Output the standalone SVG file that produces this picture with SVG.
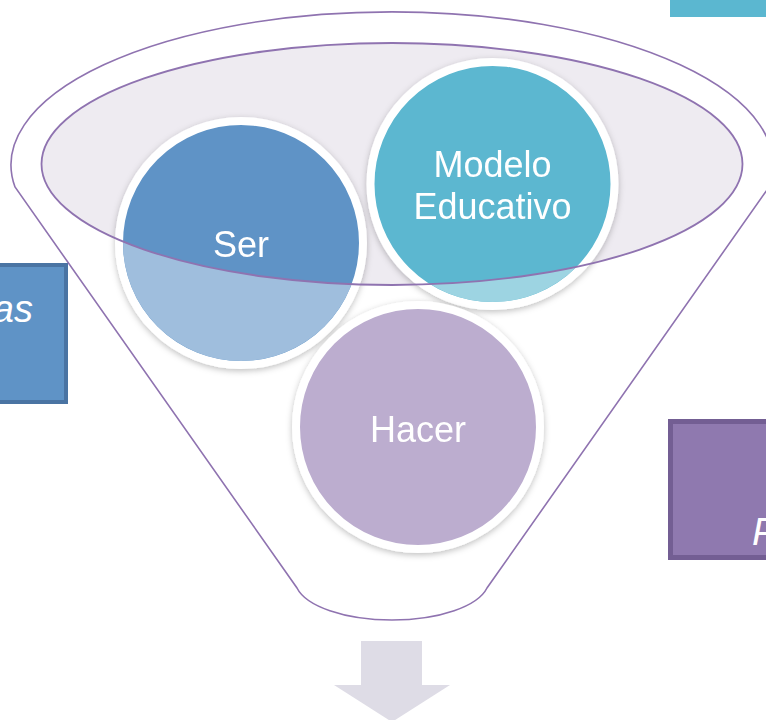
<svg xmlns="http://www.w3.org/2000/svg" width="766" height="720" viewBox="0 0 766 720">
  <style>
    .lbl { font-family: "Liberation Sans", Arial, sans-serif; font-size: 36px; fill: #ffffff; text-anchor: middle; }
    .side { font-family: "Liberation Sans", Arial, sans-serif; font-size: 38px; font-style: italic; fill: #ffffff; }
    .ring { stroke: #ffffff; stroke-width: 8; }
    .funnel { fill: #ffffff; stroke: #8F73B0; stroke-width: 1.6; }
    .rim { fill: none; stroke: #8F73B0; stroke-width: 1.8; }
  </style>
  <defs>
    <filter id="sh" x="-20%" y="-20%" width="140%" height="140%">
      <feDropShadow dx="0" dy="2" stdDeviation="3" flood-color="#000000" flood-opacity="0.25"/>
    </filter>
    <clipPath id="below">
      <path clip-rule="evenodd" d="M-10,-10H780V730H-10Z M41.5,164 a350.5,121 0 1,0 701,0 a350.5,121 0 1,0 -701,0 Z"/>
    </clipPath>
  </defs>
  <rect width="766" height="720" fill="#ffffff"/>

  <g id="top-right-box">
    <rect x="670" y="-4" width="100" height="21" fill="#5BB7D0"/>
  </g>

  <g id="left-box">
    <rect x="-10" y="265" width="76" height="137" fill="#5F93C6" stroke="#4A74A3" stroke-width="4"/>
    <text class="side" x="33" y="322" text-anchor="end">as</text>
  </g>

  <g id="right-box">
    <rect x="670.5" y="421.5" width="110" height="136" fill="#8F79AF" stroke="#735E93" stroke-width="5"/>
    <text class="side" x="752" y="545">P</text>
  </g>

  <g id="funnel">
    <path class="funnel" d="M15,187 A381,153 0 1 1 769,187 L487,588 C478,606 440,620 392,620 C344,620 306,606 297,588 Z"/>
    <ellipse cx="392" cy="164" rx="350.5" ry="121" fill="#EEEBF1"/>
  </g>

  <g id="node-ser" filter="url(#sh)">
    <circle class="ring" cx="241" cy="243" r="122" fill="#5F93C6"/>
    <circle cx="241" cy="243" r="118" fill="#9FBEDD" clip-path="url(#below)"/>
    <text class="lbl" x="241" y="257">Ser</text>
  </g>

  <g id="node-modelo" filter="url(#sh)">
    <circle class="ring" cx="492.5" cy="184" r="122" fill="#5BB7D0"/>
    <circle cx="492.5" cy="184" r="118" fill="#9DD4E2" clip-path="url(#below)"/>
    <text class="lbl" x="492.5" y="177">Modelo</text>
    <text class="lbl" x="492.5" y="219">Educativo</text>
  </g>

  <g id="node-hacer" filter="url(#sh)">
    <circle class="ring" cx="418" cy="427" r="122" fill="#BCADCF"/>
    <text class="lbl" x="418" y="442">Hacer</text>
  </g>

  <g id="connectors">
    <ellipse class="rim" cx="392" cy="164" rx="350.5" ry="121"/>
    <path d="M361,641 L422,641 L422,685 L450,685 L392,722 L334,685 L361,685 Z" fill="#DEDCE6"/>
  </g>
</svg>
